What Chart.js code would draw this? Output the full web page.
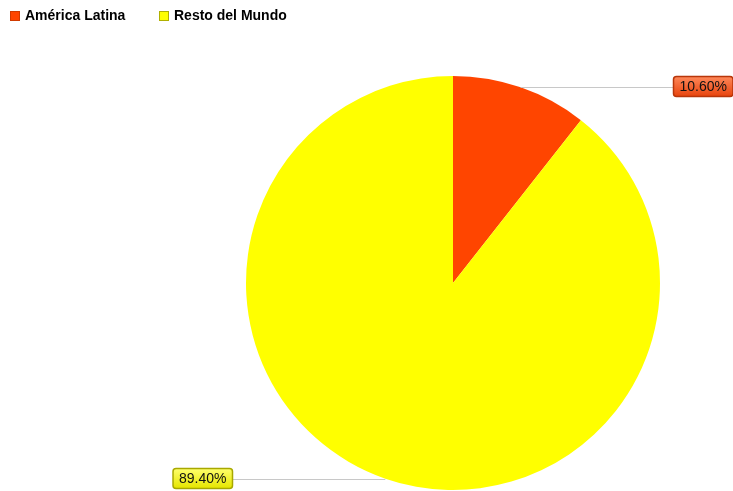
<!DOCTYPE html>
<html>
<head>
<meta charset="utf-8">
<script src="https://cdn.jsdelivr.net/npm/chart.js@4"></script>
<style>
html,body{margin:0;padding:0;background:#fff;}
#wrap{width:733px;height:491px;position:relative;}
</style>
</head>
<body>
<div id="wrap"><canvas id="c" width="733" height="491"></canvas></div>
<script>
const categories = ["América Latina", "Resto del Mundo"];
const shares = [10.6, 89.4];
const valueLabels = ["10.60%", "89.40%"];
const sliceColors = ["#FF4500", "#FFFF00"];
const labelTop = ["#FF8A5C", "#FFFF70"];
const labelBottom = ["#E8450F", "#E6E600"];
const labelBorder = ["#B8360A", "#A8A800"];

function roundRect(ctx, x, y, w, h, r) {
  ctx.beginPath();
  ctx.moveTo(x + r, y);
  ctx.lineTo(x + w - r, y);
  ctx.quadraticCurveTo(x + w, y, x + w, y + r);
  ctx.lineTo(x + w, y + h - r);
  ctx.quadraticCurveTo(x + w, y + h, x + w - r, y + h);
  ctx.lineTo(x + r, y + h);
  ctx.quadraticCurveTo(x, y + h, x, y + h - r);
  ctx.lineTo(x, y + r);
  ctx.quadraticCurveTo(x, y, x + r, y);
  ctx.closePath();
}

const labelPlugin = {
  id: 'leaderLabels',
  afterDatasetsDraw(chart) {
    const ctx = chart.ctx;
    const meta = chart.getDatasetMeta(0);
    ctx.save();
    ctx.font = '14px "Liberation Sans", Arial, sans-serif';
    meta.data.forEach((arc, i) => {
      const mid = (arc.startAngle + arc.endAngle) / 2;
      const r = arc.outerRadius;
      const px = arc.x + Math.cos(mid) * r;
      const py = arc.y + Math.sin(mid) * r;
      const right = Math.cos(mid) >= 0;
      const endX = right ? arc.x + r + 13 : arc.x - r - 14;
      ctx.strokeStyle = '#C8C8C8';
      ctx.lineWidth = 1;
      ctx.beginPath();
      ctx.moveTo(px, Math.round(py) + 0.5);
      ctx.lineTo(endX, Math.round(py) + 0.5);
      ctx.stroke();
      const txt = valueLabels[i];
      const tw = ctx.measureText(txt).width;
      const bw = tw + 12, bh = 20;
      const bx = right ? endX : endX - bw;
      const by = Math.round(py) - 11;
      const g = ctx.createLinearGradient(0, by, 0, by + bh);
      g.addColorStop(0, labelTop[i]);
      g.addColorStop(1, labelBottom[i]);
      roundRect(ctx, bx + 0.5, by + 0.5, bw, bh, 3);
      ctx.fillStyle = g;
      ctx.fill();
      ctx.strokeStyle = labelBorder[i];
      ctx.lineWidth = 1.5;
      ctx.stroke();
      ctx.fillStyle = '#111';
      ctx.textBaseline = 'middle';
      ctx.textAlign = 'center';
      ctx.fillText(txt, bx + bw / 2 + 0.5, by + bh / 2 + 1);
    });
    ctx.restore();
  }
};

const legendPlugin = {
  id: 'topLegend',
  afterDraw(chart) {
    const ctx = chart.ctx;
    ctx.save();
    ctx.font = 'bold 14px "Liberation Sans", Arial, sans-serif';
    ctx.textBaseline = 'middle';
    ctx.textAlign = 'left';
    const xs = [10, 159];
    chart.data.labels.forEach((lab, i) => {
      const col = chart.data.datasets[0].backgroundColor[i];
      ctx.fillStyle = col;
      ctx.fillRect(xs[i], 11, 10, 10);
      ctx.strokeStyle = i === 1 ? '#B0B000' : '#D03A00';
      ctx.lineWidth = 1;
      ctx.strokeRect(xs[i] + 0.5, 11.5, 9, 9);
      ctx.fillStyle = '#000';
      ctx.fillText(lab, xs[i] + 15, 16.5);
    });
    ctx.restore();
  }
};

new Chart(document.getElementById('c'), {
  type: 'pie',
  data: {
    labels: categories,
    datasets: [{
      data: shares,
      backgroundColor: sliceColors,
      borderWidth: 0
    }]
  },
  options: {
    responsive: false,
    animation: false,
    layout: { padding: { left: 246, right: 73, top: 76, bottom: 1 } },
    plugins: {
      legend: { display: false },
      tooltip: { enabled: false }
    }
  },
  plugins: [labelPlugin, legendPlugin]
});
</script>
</body>
</html>
